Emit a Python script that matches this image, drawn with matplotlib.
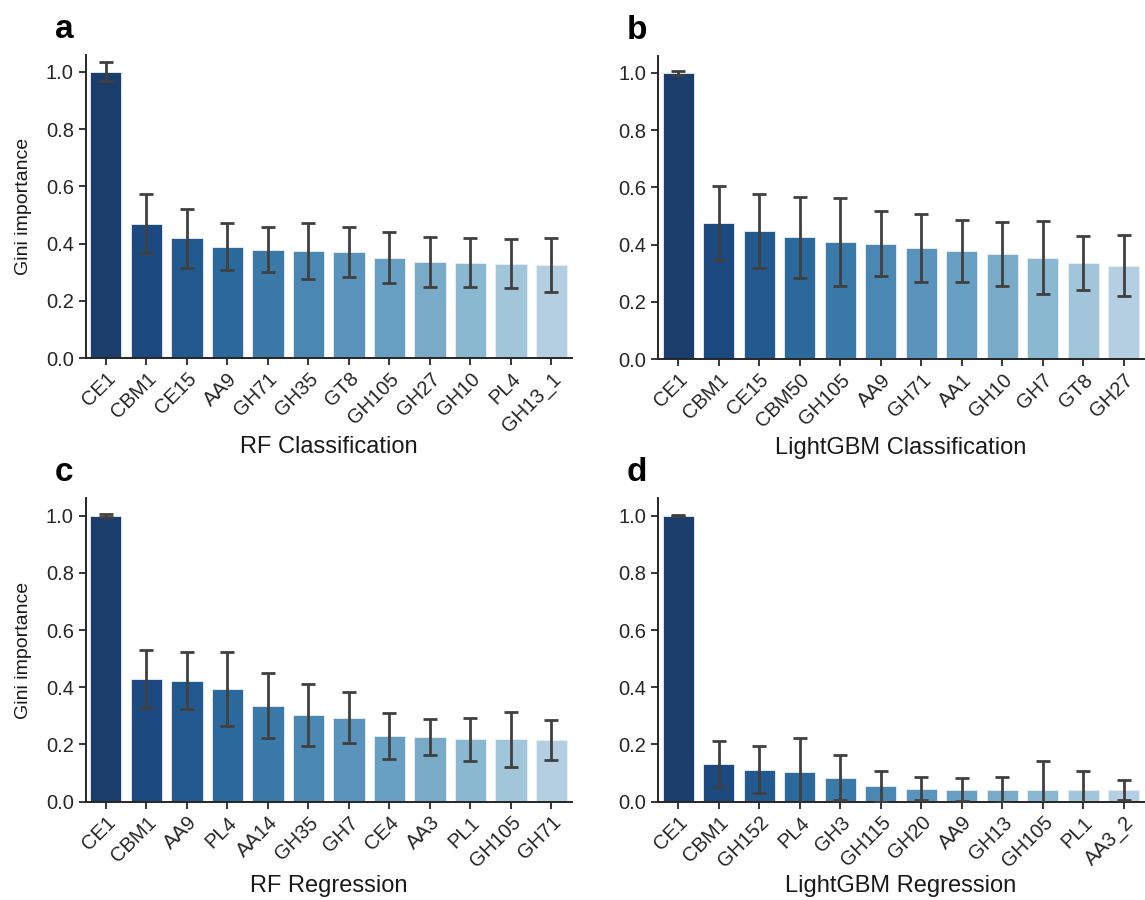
import numpy as np
import matplotlib.pyplot as plt

plt.rcParams['font.family'] = ['Liberation Sans', 'DejaVu Sans']

# Feature importance (mean +/- sd)
rf_cls_labels = ["CE1", "CBM1", "CE15", "AA9", "GH71", "GH35", "GT8", "GH105",
                 "GH27", "GH10", "PL4", "GH13_1"]
rf_cls_values = [1.0, 0.470, 0.418, 0.389, 0.378, 0.375, 0.370, 0.351,
                 0.336, 0.333, 0.329, 0.326]
rf_cls_err = [0.033, 0.104, 0.104, 0.082, 0.079, 0.098, 0.088, 0.088,
              0.087, 0.085, 0.086, 0.095]

lgbm_cls_labels = ["CE1", "CBM1", "CE15", "CBM50", "GH105", "AA9", "GH71", "AA1",
                   "GH10", "GH7", "GT8", "GH27"]
lgbm_cls_values = [1.0, 0.476, 0.449, 0.425, 0.410, 0.404, 0.389, 0.377,
                   0.366, 0.355, 0.335, 0.327]
lgbm_cls_err = [0.007, 0.128, 0.129, 0.141, 0.154, 0.112, 0.118, 0.108,
                0.112, 0.128, 0.094, 0.106]

rf_reg_labels = ["CE1", "CBM1", "AA9", "PL4", "AA14", "GH35", "GH7", "CE4",
                 "AA3", "PL1", "GH105", "GH71"]
rf_reg_values = [1.0, 0.429, 0.423, 0.394, 0.336, 0.303, 0.294, 0.231,
                 0.226, 0.218, 0.218, 0.216]
rf_reg_err = [0.004, 0.100, 0.100, 0.130, 0.115, 0.110, 0.090, 0.080,
              0.062, 0.075, 0.097, 0.070]

lgbm_reg_labels = ["CE1", "CBM1", "GH152", "PL4", "GH3", "GH115", "GH20", "AA9",
                   "GH13", "GH105", "PL1", "AA3_2"]
lgbm_reg_values = [1.0, 0.133, 0.112, 0.104, 0.084, 0.054, 0.046, 0.042,
                   0.042, 0.042, 0.040, 0.040]
lgbm_reg_err = [0.003, 0.080, 0.082, 0.120, 0.078, 0.055, 0.040, 0.040,
                0.045, 0.100, 0.066, 0.035]

bar_colors = ["#1a3d6b", "#1c4a80", "#22598e", "#2b689b", "#3b79a8", "#4a87b2",
              "#5a93bb", "#68a0c4", "#79abc9", "#8bb8d1", "#a1c5d9", "#b4cfe1"]

fig = plt.figure(figsize=(11.45, 9), dpi=100)

panels = [
    ("a", "RF Classification", rf_cls_labels, rf_cls_values, rf_cls_err,
     [0.0748, 0.6022, 0.4245, 0.337], -0.294),
    ("b", "LightGBM Classification", lgbm_cls_labels, lgbm_cls_values, lgbm_cls_err,
     [0.5747, 0.6010, 0.4245, 0.337], -0.294),
    ("c", "RF Regression", rf_reg_labels, rf_reg_values, rf_reg_err,
     [0.0748, 0.1092, 0.4245, 0.337], -0.277),
    ("d", "LightGBM Regression", lgbm_reg_labels, lgbm_reg_values, lgbm_reg_err,
     [0.5747, 0.1092, 0.4245, 0.337], -0.277),
]

for letter, title, labels, values, err, rect, label_y in panels:
    ax = fig.add_axes(rect)
    x = np.arange(len(labels))
    ax.bar(x, values, width=0.77, color=bar_colors, edgecolor="#e8eff6",
           linewidth=0.6, zorder=2)
    ax.errorbar(x, values, yerr=err, fmt="none", ecolor="#404040",
                elinewidth=2.0, capsize=5, capthick=2.0, zorder=3)
    ax.set_xlim(-0.5, len(labels) - 0.5)
    ax.set_ylim(0, 1.06)
    ax.set_yticks(np.arange(0, 1.01, 0.2))
    ax.set_yticklabels([f"{v:.1f}" for v in np.arange(0, 1.01, 0.2)])
    ax.set_xticks(x)
    ax.set_xticklabels(labels, rotation=45, ha="right", rotation_mode="anchor")
    ax.tick_params(axis="both", labelsize=14.5, length=5, width=1.3,
                   colors="#262626")
    ax.tick_params(axis="x", pad=3)
    for side in ["top", "right"]:
        ax.spines[side].set_visible(False)
    for side in ["left", "bottom"]:
        ax.spines[side].set_linewidth(1.4)
        ax.spines[side].set_color("#262626")
    ax.set_xlabel(title, fontsize=17, color="#1a1a1a", va="center")
    ax.xaxis.set_label_coords(0.5, label_y)
    if letter in ("a", "c"):
        ax.set_ylabel("Gini importance", fontsize=14, color="#1a1a1a", labelpad=10)
    pos = ax.get_position()
    fig.text(pos.x0 - 0.027, pos.y1 + 0.019, letter, fontsize=24,
             fontweight="bold", ha="left", va="baseline")

fig.savefig("out.png", dpi=100)
